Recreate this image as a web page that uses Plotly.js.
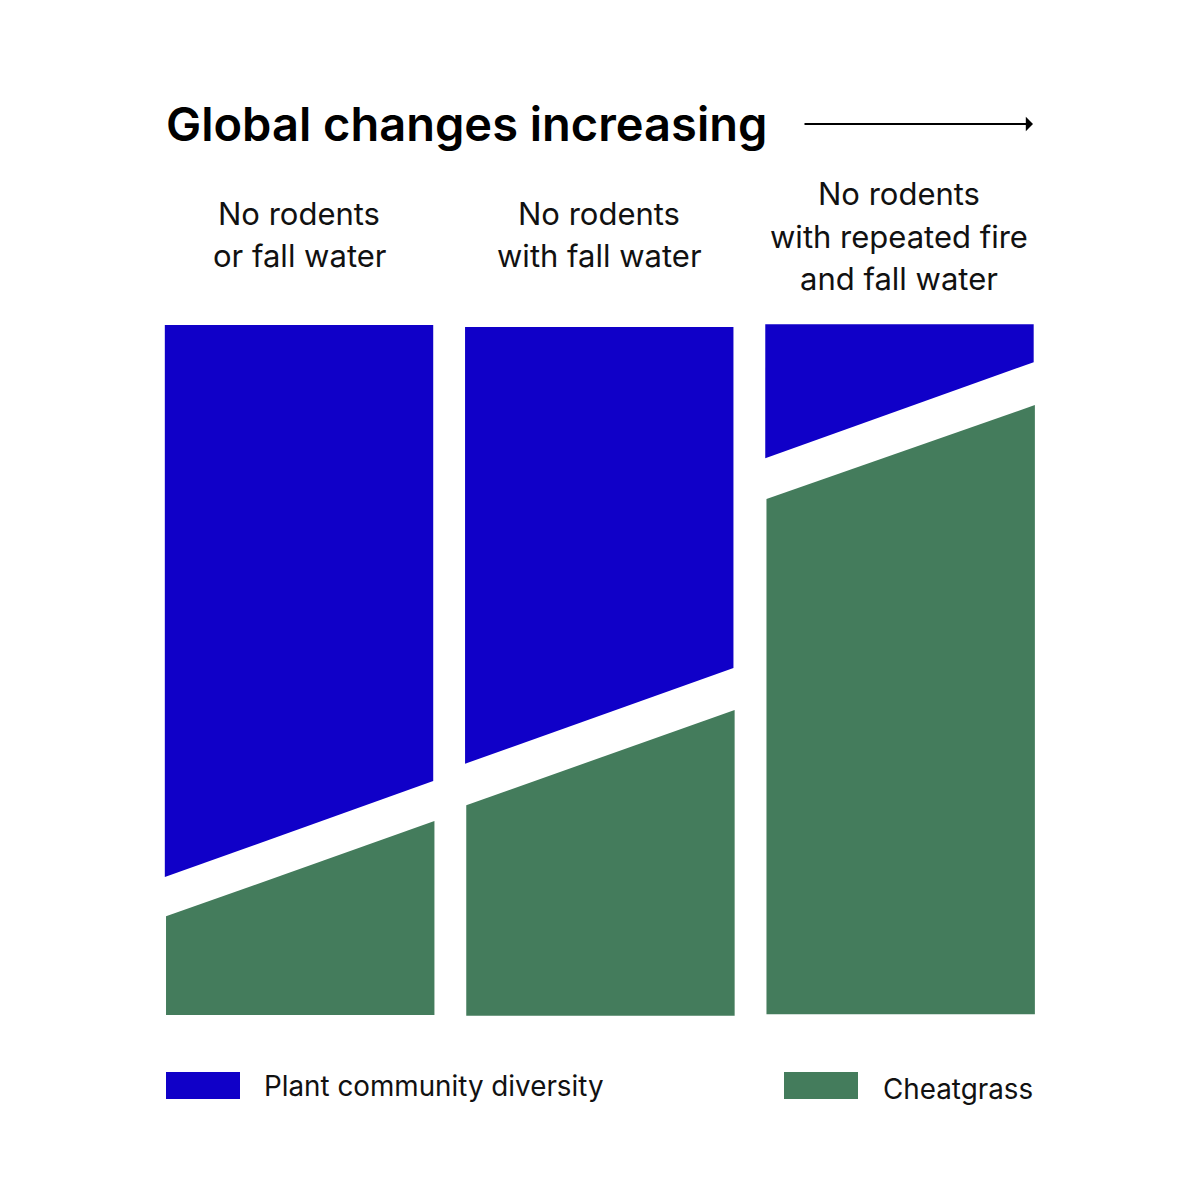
<!DOCTYPE html>
<html>
<head>
<meta charset="utf-8">
<script src="https://cdn.plot.ly/plotly-3.0.1.min.js"></script>
<style>
  html, body { margin: 0; padding: 0; background: #ffffff; }
  #chart { width: 1200px; height: 1200px; }
</style>
</head>
<body>
<div id="chart"></div>
<script>
// treatments, left to right
const categories = [
    'No rodents<br>or fall water',
    'No rodents<br>with fall water',
    'No rodents<br>with repeated fire<br>and fall water'
]
// relative cover, 0 = base of the columns, 100 = top
const diversityTop = [100, 99.7, 100.1]
const diversityLowLeft = [20.0, 36.4, 80.7]
const diversityLowRight = [33.9, 50.3, 94.6]
const cheatgrassHighLeft = [14.3, 30.4, 74.8]
const cheatgrassHighRight = [28.1, 44.2, 88.4]
const cheatgrassBase = [0, -0.1, 0.1]

const seriesNames = ['Plant community diversity', 'Cheatgrass']
const colors = ['#1000c8', '#447c5c']
const half = 0.447

const py = px => 1 - px / 1200
const pxX = px => px / 1200

let data = []
categories.forEach((c, i) => {
    data.push({
        x: [i - half, i + half, i + half, i - half],
        y: [diversityTop[i], diversityTop[i], diversityLowRight[i], diversityLowLeft[i]],
        type: 'scatter',
        mode: 'lines',
        fill: 'toself',
        fillcolor: colors[0],
        line: {width: 0, color: colors[0]},
        name: seriesNames[0],
        showlegend: false,
        hoverinfo: 'skip'
    })
    data.push({
        x: [i - half + 0.004, i + half + 0.004, i + half + 0.004, i - half + 0.004],
        y: [cheatgrassHighLeft[i], cheatgrassHighRight[i], cheatgrassBase[i], cheatgrassBase[i]],
        type: 'scatter',
        mode: 'lines',
        fill: 'toself',
        fillcolor: colors[1],
        line: {width: 0, color: colors[1]},
        name: seriesNames[1],
        showlegend: false,
        hoverinfo: 'skip'
    })
})

const labelFont = {family: 'Inter, Roboto, sans-serif', size: 31, color: '#111111'}
const legendFont = {family: 'Inter, Roboto, sans-serif', size: 27.8, color: '#111111'}

let annotations = [{
    xref: 'paper', yref: 'paper',
    x: pxX(164), xanchor: 'left',
    y: py(124), yanchor: 'middle',
    text: 'Global changes increasing',
    showarrow: false,
    font: {family: 'Inter, Roboto, sans-serif', size: 47, color: '#000000', weight: 600}
}, {
    xref: 'paper', yref: 'paper',
    x: pxX(1033), y: py(124),
    ax: -230, ay: 0,
    text: '',
    showarrow: true,
    arrowhead: 1,
    arrowsize: 1.2,
    arrowwidth: 2,
    arrowcolor: '#000000'
}]

// one annotation per text line, 42 px apart, block centred on the column
categories.forEach((c, i) => {
    const lines = c.split('<br>')
    const first = lines.length === 3 ? 194 : 213
    lines.forEach((t, k) => {
        annotations.push({
            xref: 'x', yref: 'paper',
            x: i, xanchor: 'center',
            y: py(first + 42 * k), yanchor: 'middle',
            text: t,
            showarrow: false,
            font: labelFont
        })
    })
})

annotations.push({
    xref: 'paper', yref: 'paper',
    x: pxX(262), xanchor: 'left',
    y: py(1086), yanchor: 'middle',
    text: seriesNames[0], showarrow: false, font: legendFont
}, {
    xref: 'paper', yref: 'paper',
    x: pxX(881), xanchor: 'left',
    y: py(1089), yanchor: 'middle',
    text: seriesNames[1], showarrow: false, font: legendFont
})

const shapes = [{
    type: 'rect', xref: 'paper', yref: 'paper',
    x0: pxX(166), x1: pxX(240), y0: py(1072), y1: py(1099),
    fillcolor: colors[0], line: {width: 0}
}, {
    type: 'rect', xref: 'paper', yref: 'paper',
    x0: pxX(784), x1: pxX(858), y0: py(1072), y1: py(1099),
    fillcolor: colors[1], line: {width: 0}
}]

const layout = {
    width: 1200,
    height: 1200,
    margin: {l: 0, r: 0, t: 0, b: 0},
    paper_bgcolor: '#ffffff',
    plot_bgcolor: '#ffffff',
    showlegend: false,
    xaxis: {range: [-0.996, 3.001], visible: false, fixedrange: true},
    yaxis: {range: [-26.81, 147.1], visible: false, fixedrange: true},
    annotations: annotations,
    shapes: shapes
}

Plotly.newPlot('chart', data, layout, {displayModeBar: false, staticPlot: true})
</script>
</body>
</html>
